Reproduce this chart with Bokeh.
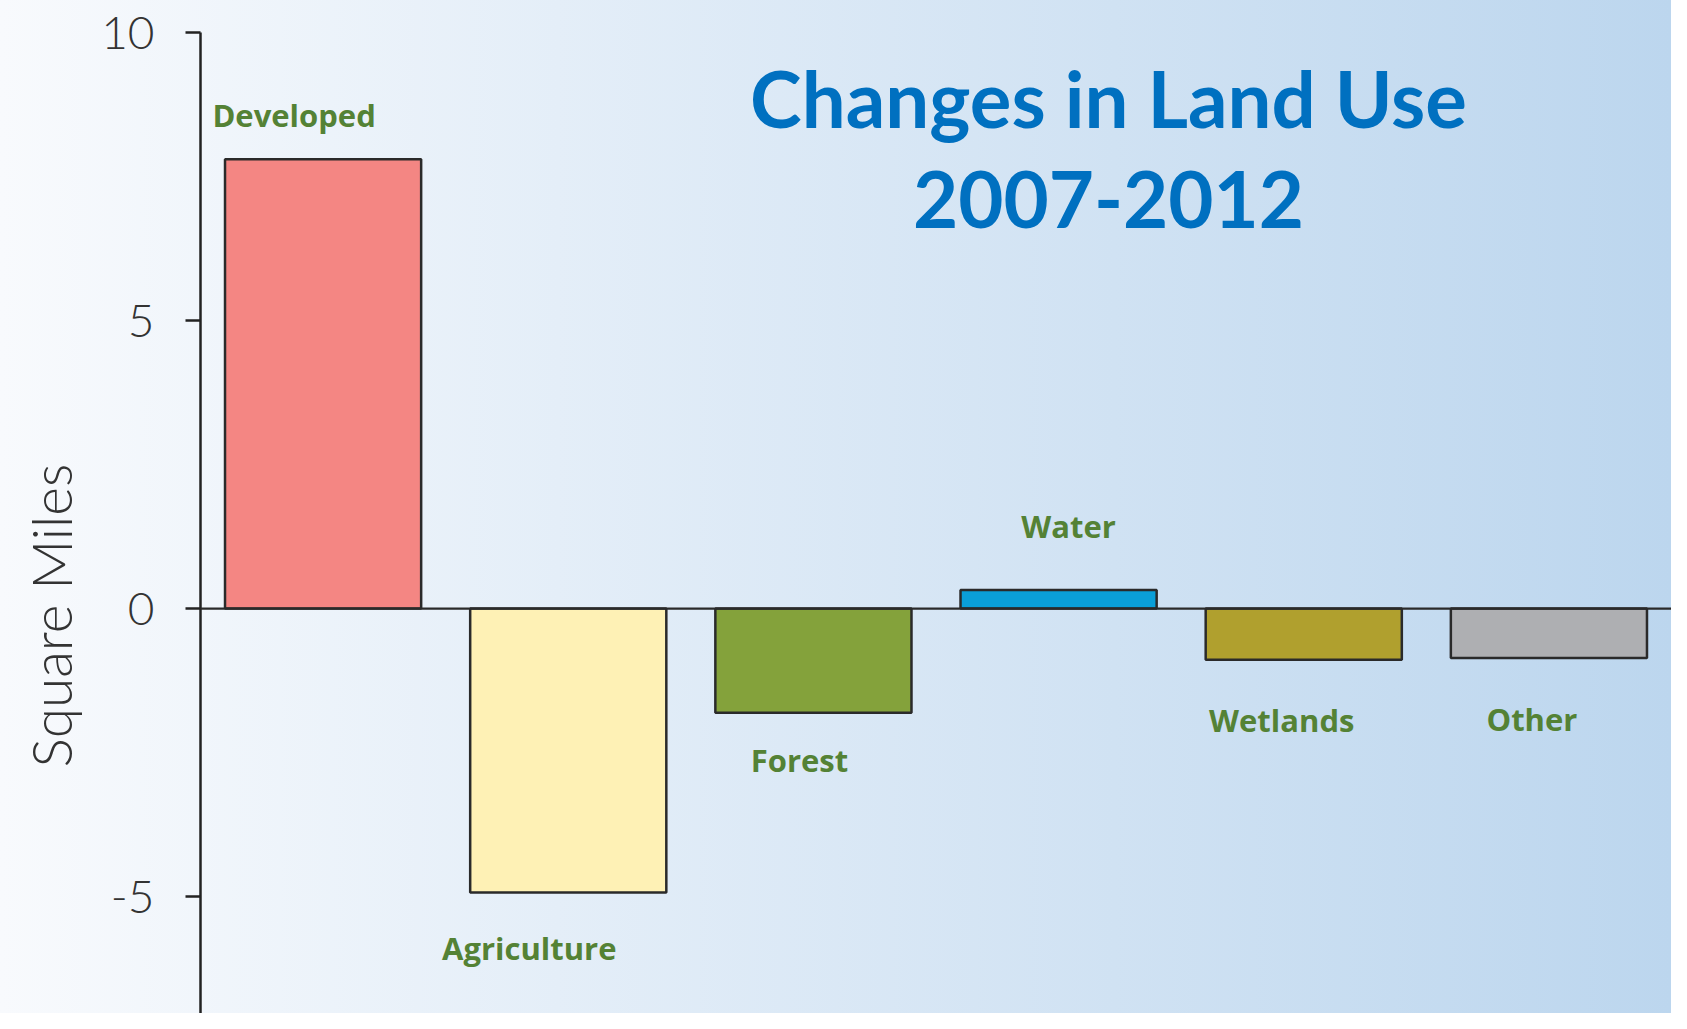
import math
from bokeh.plotting import figure
from bokeh.models import ColumnDataSource, FactorRange, Range1d, FixedTicker, Span, Label, Title
from bokeh.core.properties import value
from bokeh.embed import file_html
from bokeh.resources import INLINE

# ---- data ----
categories = ["Developed", "Agriculture", "Forest", "Water", "Wetlands", "Other"]
changes = [7.8, -4.93, -1.81, 0.32, -0.89, -0.86]
y_ticks = [-10, -5, 0, 5, 10]
y_tick_text = {-10: "-10", -5: "-5", 0: "0", 5: "5", 10: "10"}
title_lines = ["Changes in Land Use", "2007-2012"]
y_label = "Square Miles"

# ---- styles ----
bar_colors = ["#F48683", "#FEF1B5", "#84A23B", "#0A9FD8", "#B0A02E", "#AEAFB2"]
label_dx = [-29, -39, -14, 10, -22, -17]
label_dy = [-44, 55, 47, -64, 60, 61]

src = ColumnDataSource(dict(cat=categories, val=changes, color=bar_colors,
                            dx=label_dx, dy=label_dy))

p = figure(width=1671, height=1013, output_backend="svg", toolbar_location=None,
           x_range=FactorRange(*categories), y_range=Range1d(-7.03, 10),
           x_axis_location=None, min_border_left=200, min_border_right=0,
           min_border_top=32, min_border_bottom=0)
p.background_fill_color = None
p.border_fill_color = None
p.outline_line_color = None
p.styles = {"background-image": "linear-gradient(to right, #F8FAFD, #BCD6EE)"}
p.grid.visible = False

p.vbar(x="cat", top="val", bottom=0, width=0.8, fill_color="color",
       line_color="#2A2A2A", line_width=2.5, source=src)

p.add_layout(Span(location=0, dimension="width", line_color="#2A2A2A", line_width=2.2))

p.text(x="cat", y="val", text="cat", x_offset="dx", y_offset="dy", source=src,
       text_align="center", text_baseline="alphabetic",
       text_font=value("Open Sans"), text_font_style="bold",
       text_font_size="31px", text_color="#548235")

ax = p.yaxis[0]
ax.ticker = FixedTicker(ticks=y_ticks)
ax.major_label_overrides = y_tick_text
ax.minor_tick_line_color = None
ax.major_tick_in = 0
ax.major_tick_out = 15
ax.major_tick_line_width = 2.5
ax.major_tick_line_color = "#222222"
ax.axis_line_width = 2.5
ax.axis_line_color = "#222222"
ax.major_label_standoff = 31
ax.major_label_text_font = "Lato Light"
ax.major_label_text_font_size = "46px"
ax.major_label_text_color = "#333333"

p.add_layout(Title(text=y_label, align="left", offset=246, standoff=26,
                   vertical_align="top",
                   text_font="Lato Light", text_font_style="normal",
                   text_font_size="55px", text_color="#333333"), "left")

for txt, yv in zip(title_lines, [8.87, 7.10]):
    p.add_layout(Label(x=908, y=yv, x_units="screen", y_units="data", text=txt,
                       text_align="center", text_baseline="alphabetic",
                       text_font="Lato", text_font_style="bold",
                       text_font_size="78px", text_color="#0070C0"))

open("out.html", "w").write(file_html(p, INLINE))
